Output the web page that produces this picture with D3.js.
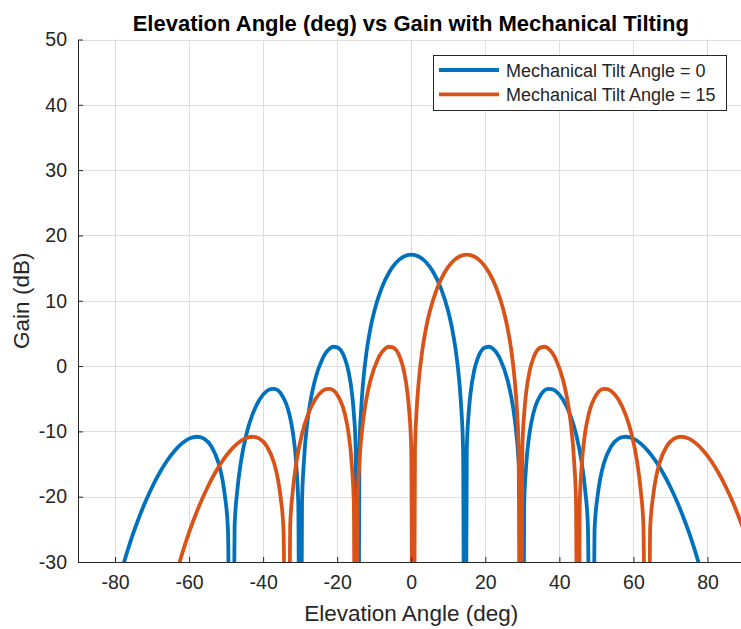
<!DOCTYPE html>
<html>
<head>
<meta charset="utf-8">
<script src="https://cdn.jsdelivr.net/npm/d3@7"></script>
<style>
  html, body { margin: 0; padding: 0; background: #fff; }
  svg { display: block; font-family: "Liberation Sans", Arial, Helvetica, sans-serif; }
</style>
</head>
<body>
<svg id="chart" width="741" height="629"></svg>
<script>
// Elevation pattern, no tilt (deg, dB)
const tilt0Angle = [
  -82, -80, -78, -76, -75, -74, -72, -70, -68, -66, -64, -62, -60, -59, -58, -57, -56, -54, -52, -51,
  -50.3, -49.5, -48.59, -47.7, -47, -46, -44.5, -43, -41, -39, -38, -37, -35, -33, -32, -31, -30.5, -30,
  -29.5, -29, -28, -27, -26, -24, -22, -21, -20, -18, -17, -16, -15.5, -15, -14.48, -14, -13.5, -13,
  -12, -11, -10, -8, -6, -4, -2, 0,
  2, 4, 6, 8, 10, 11, 12, 13, 13.5, 14, 14.48, 15, 15.5, 16, 17, 18, 20, 21, 22, 24, 26, 27, 28, 29,
  29.5, 30, 30.5, 31, 32, 33, 35, 37, 38, 39, 41, 43, 44.5, 46, 47, 47.7, 48.59, 49.5, 50.3, 51, 52,
  54, 56, 57, 58, 59, 60, 62, 64, 66, 68, 70, 72, 74, 75, 76, 78, 80, 82
];
const tilt0Gain = [
  -40.4, -35.27, -30.91, -27.16, -25.47, -23.91, -21.04, -18.55, -16.38, -14.54, -13.04, -11.88, -11.11, -10.91, -10.82, -10.88, -11.12, -12.28, -14.93, -17.35,
  -19.99, -25.03, -80, -24.45, -19.18, -14.64, -10.40, -7.60, -5.16, -3.82, -3.52, -3.49, -4.38, -7.19, -10.05, -15.51, -21.29, -80,
  -20.86, -14.66, -8.36, -4.69, -2.14, 1.09, 2.69, 2.96, 2.87, 1.26, -0.68, -4.21, -7.27, -12.73, -80, -12.85, -6.34, -2.50,
  2.48, 5.85, 8.36, 11.94, 14.33, 15.89, 16.77, 17.06,
  16.77, 15.89, 14.33, 11.94, 8.36, 5.85, 2.48, -2.50, -6.34, -12.85, -80, -12.73, -7.27, -4.21, -0.68, 1.26, 2.87, 2.96, 2.69, 1.09, -2.14, -4.69, -8.36, -14.66,
  -20.86, -80, -21.29, -15.51, -10.05, -7.19, -4.38, -3.49, -3.52, -3.82, -5.16, -7.60, -10.40, -14.64, -19.18, -24.45, -80, -25.03, -19.99, -17.35, -14.93,
  -12.28, -11.12, -10.88, -10.82, -10.91, -11.11, -11.88, -13.04, -14.54, -16.38, -18.55, -21.04, -23.91, -25.47, -27.16, -30.91, -35.27, -40.4
];

// Elevation pattern with 15 deg mechanical tilt (deg, dB)
const tilt15Angle = [
  -67, -65, -63, -61, -60, -59, -57, -55, -53, -51, -49, -47, -45, -44, -43, -42, -41, -39, -37, -36,
  -35.3, -34.5, -33.59, -32.7, -32, -31, -29.5, -28, -26, -24, -23, -22, -20, -18, -17, -16, -15.5, -15,
  -14.5, -14, -13, -12, -11, -9, -7, -6, -5, -3, -2, -1, -0.5, 0, 0.52, 1, 1.5, 2,
  3, 4, 5, 7, 9, 11, 13, 15,
  17, 19, 21, 23, 25, 26, 27, 28, 28.5, 29, 29.48, 30, 30.5, 31, 32, 33, 35, 36, 37, 39, 41, 42, 43, 44,
  44.5, 45, 45.5, 46, 47, 48, 50, 52, 53, 54, 56, 58, 59.5, 61, 62, 62.7, 63.59, 64.5, 65.3, 66, 67,
  69, 71, 72, 73, 74, 75, 77, 79, 81, 83, 85, 87, 89, 90
];
const tilt15Gain = [
  -40.4, -35.27, -30.91, -27.16, -25.47, -23.91, -21.04, -18.55, -16.38, -14.54, -13.04, -11.88, -11.11, -10.91, -10.82, -10.88, -11.12, -12.28, -14.93, -17.35,
  -19.99, -25.03, -80, -24.45, -19.18, -14.64, -10.40, -7.60, -5.16, -3.82, -3.52, -3.49, -4.38, -7.19, -10.05, -15.51, -21.29, -80,
  -20.86, -14.66, -8.36, -4.69, -2.14, 1.09, 2.69, 2.96, 2.87, 1.26, -0.68, -4.21, -7.27, -12.73, -80, -12.85, -6.34, -2.50,
  2.48, 5.85, 8.36, 11.94, 14.33, 15.89, 16.77, 17.06,
  16.77, 15.89, 14.33, 11.94, 8.36, 5.85, 2.48, -2.50, -6.34, -12.85, -80, -12.73, -7.27, -4.21, -0.68, 1.26, 2.87, 2.96, 2.69, 1.09, -2.14, -4.69, -8.36, -14.66,
  -20.86, -80, -21.29, -15.51, -10.05, -7.19, -4.38, -3.49, -3.52, -3.82, -5.16, -7.60, -10.40, -14.64, -19.18, -24.45, -80, -25.03, -19.99, -17.35, -14.93,
  -12.28, -11.12, -10.88, -10.82, -10.91, -11.11, -11.88, -13.04, -14.54, -16.38, -18.55, -21.04, -23.91, -25.47
];

const seriesNames = ["Mechanical Tilt Angle = 0", "Mechanical Tilt Angle = 15"];
const seriesColors = ["#0072BD", "#D95319"];
const xTicks = [-80, -60, -40, -20, 0, 20, 40, 60, 80];
const yTicks = [-30, -20, -10, 0, 10, 20, 30, 40, 50];

const titleText = "Elevation Angle (deg) vs Gain with Mechanical Tilting";
const xLabel = "Elevation Angle (deg)";
const yLabel = "Gain (dB)";

const svg = d3.select("#chart");
const m = { left: 78, right: 744.5, top: 39.5, bottom: 562 };
const axisColor = "#262626";

const x = d3.scaleLinear().domain([-90, 90]).range([m.left, m.right]);
const y = d3.scaleLinear().domain([-30, 50]).range([m.bottom, m.top]);

// clip region for the curves
svg.append("defs").append("clipPath").attr("id", "plotClip")
  .append("rect")
  .attr("x", m.left).attr("y", m.top)
  .attr("width", m.right - m.left).attr("height", m.bottom - m.top);

// grid
const grid = svg.append("g").attr("stroke", "#dfdfdf").attr("stroke-width", 1);
grid.selectAll("line.gx").data(xTicks).join("line")
  .attr("x1", d => Math.round(x(d)) + 0.5).attr("x2", d => Math.round(x(d)) + 0.5)
  .attr("y1", m.top).attr("y2", m.bottom);
grid.selectAll("line.gy").data(yTicks).join("line")
  .attr("x1", m.left).attr("x2", m.right)
  .attr("y1", d => Math.round(y(d)) + 0.5).attr("y2", d => Math.round(y(d)) + 0.5);

// curves
const line = d3.line()
  .x(d => x(d[0]))
  .y(d => y(d[1]))
  .curve(d3.curveMonotoneX);

const series = [
  d3.zip(tilt0Angle, tilt0Gain),
  d3.zip(tilt15Angle, tilt15Gain)
];

const curves = svg.append("g").attr("clip-path", "url(#plotClip)");
series.forEach((pts, i) => {
  curves.append("path")
    .datum(pts)
    .attr("fill", "none")
    .attr("stroke", seriesColors[i])
    .attr("stroke-width", 3.8)
    .attr("stroke-linejoin", "round")
    .attr("d", line);
});

// axes (ticks point inward)
const xAxis = svg.append("g")
  .attr("transform", `translate(0,${m.bottom})`)
  .call(d3.axisBottom(x).tickValues(xTicks).tickFormat(d3.format("d"))
    .tickSizeInner(-5).tickSizeOuter(0).tickPadding(13));
const yAxis = svg.append("g")
  .attr("transform", `translate(${m.left},0)`)
  .call(d3.axisLeft(y).tickValues(yTicks).tickFormat(d3.format("d"))
    .tickSizeInner(-5).tickSizeOuter(0).tickPadding(11));

[xAxis, yAxis].forEach(g => {
  g.select(".domain").attr("stroke", axisColor).attr("stroke-width", 1);
  g.selectAll(".tick line").attr("stroke", axisColor);
  g.selectAll(".tick text")
    .attr("fill", axisColor)
    .style("font-size", "19.5px")
    .style("font-family", "Liberation Sans, Arial, sans-serif");
});
xAxis.selectAll(".tick text").text(d => d < 0 ? "-" + Math.abs(d) : d);
yAxis.selectAll(".tick text").text(d => d < 0 ? "-" + Math.abs(d) : d);

// titles
svg.append("text")
  .attr("x", (m.left + m.right) / 2 - 0.5).attr("y", 31)
  .attr("text-anchor", "middle")
  .attr("font-size", "22px").attr("font-weight", "bold")
  .attr("fill", "#000")
  .text(titleText);

svg.append("text")
  .attr("x", (m.left + m.right) / 2).attr("y", 621)
  .attr("text-anchor", "middle")
  .attr("font-size", "22.5px")
  .attr("fill", axisColor)
  .text(xLabel);

svg.append("text")
  .attr("transform", `translate(29,${(m.top + m.bottom) / 2}) rotate(-90)`)
  .attr("text-anchor", "middle")
  .attr("font-size", "22.5px")
  .attr("fill", axisColor)
  .text(yLabel);

// legend
const lg = svg.append("g").attr("transform", "translate(433,55)");
lg.append("rect")
  .attr("x", 0.5).attr("y", 0.5)
  .attr("width", 293).attr("height", 55)
  .attr("fill", "#fff").attr("stroke", axisColor).attr("stroke-width", 1);
seriesNames.forEach((name, i) => {
  const cy = 15 + i * 24.3;
  lg.append("line")
    .attr("x1", 6).attr("x2", 66)
    .attr("y1", cy).attr("y2", cy)
    .attr("stroke", seriesColors[i]).attr("stroke-width", 3.8);
  lg.append("text")
    .attr("x", 73).attr("y", cy + 6.5)
    .attr("font-size", "18px")
    .attr("fill", axisColor)
    .text(name);
});
</script>
</body>
</html>
